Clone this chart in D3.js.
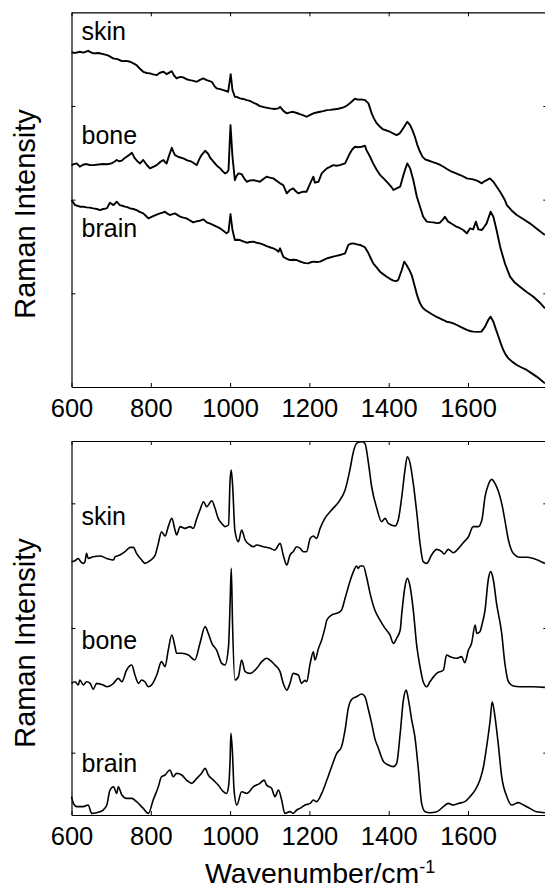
<!DOCTYPE html>
<html>
<head>
<meta charset="utf-8">
<script src="https://cdn.jsdelivr.net/npm/d3@7"></script>
<style>
  html, body { margin: 0; padding: 0; background: #fff; }
  svg { display: block; font-family: "Liberation Sans", Arial, Helvetica, sans-serif; }
</style>
</head>
<body>
<svg id="chart" width="545" height="888"></svg>
<script>
// Wavenumber axis (cm^-1)
const xDomain = [600, 1800];
const xTicks = [600, 800, 1000, 1200, 1400, 1600];

// Upper panel: raw spectra, stacked with offsets [wavenumber, intensity]
const rawSkin = [[600,3.572],[610,3.566],[621,3.579],[630,3.570],[642,3.589],[648,3.575],[655,3.561],[668,3.566],[680,3.554],[692,3.540],[705,3.508],[716,3.500],[727,3.479],[738,3.482],[748,3.472],[756,3.455],[764,3.436],[772,3.400],[781,3.365],[790,3.352],[798,3.348],[806,3.338],[815,3.330],[823,3.355],[832,3.365],[840,3.340],[853,3.372],[858,3.330],[865,3.294],[874,3.310],[882,3.305],[890,3.285],[899,3.276],[908,3.268],[916,3.258],[924,3.278],[932,3.294],[941,3.276],[954,3.258],[960,3.215],[966,3.188],[975,3.180],[983,3.170],[990,3.160],[995,3.151],[1001.5,3.340],[1006,3.170],[1012,3.098],[1018,3.095],[1025,3.081],[1033,3.075],[1042,3.063],[1050,3.055],[1059,3.034],[1067,3.020],[1075,2.999],[1088,2.985],[1101,2.974],[1112,2.968],[1122,2.974],[1126,2.991],[1135,2.945],[1143,2.921],[1151,2.932],[1159,2.938],[1168,2.925],[1176,2.912],[1185,2.900],[1193,2.885],[1202,2.905],[1210,2.921],[1218,2.930],[1227,2.938],[1235,2.945],[1244,2.956],[1252,2.958],[1260,2.963],[1273,2.970],[1286,2.985],[1295,3.005],[1302,3.028],[1309,3.055],[1315,3.077],[1322,3.068],[1328,3.070],[1334,3.068],[1340,3.063],[1349,3.028],[1357,2.921],[1363,2.865],[1370,2.814],[1378,2.778],[1386,2.750],[1395,2.738],[1403,2.725],[1412,2.705],[1420,2.689],[1428,2.708],[1434,2.745],[1439,2.778],[1447,2.831],[1454,2.796],[1460,2.740],[1466,2.671],[1472,2.585],[1479,2.511],[1485,2.460],[1492,2.430],[1500,2.418],[1508,2.405],[1515,2.395],[1521,2.387],[1530,2.370],[1538,2.351],[1548,2.325],[1559,2.298],[1570,2.280],[1580,2.263],[1589,2.245],[1597,2.227],[1605,2.222],[1613,2.216],[1624,2.200],[1635,2.174],[1641,2.195],[1647,2.209],[1655,2.227],[1664,2.191],[1672,2.140],[1681,2.084],[1693,1.996],[1698,1.942],[1710,1.885],[1723,1.836],[1740,1.790],[1756,1.747],[1775,1.685],[1794,1.622]];
const rawBone = [[600,2.369],[606,2.380],[613,2.387],[621,2.352],[629,2.372],[638,2.380],[646,2.370],[655,2.369],[668,2.375],[680,2.380],[690,2.378],[701,2.387],[708,2.405],[714,2.423],[720,2.410],[727,2.416],[733,2.440],[739,2.458],[746,2.478],[752,2.501],[756,2.470],[760,2.440],[766,2.410],[773,2.387],[777,2.405],[781,2.423],[790,2.370],[798,2.334],[806,2.350],[815,2.369],[823,2.400],[832,2.423],[836,2.400],[840,2.387],[846,2.470],[853,2.554],[857,2.510],[861,2.476],[870,2.455],[882,2.440],[892,2.420],[903,2.405],[910,2.385],[916,2.369],[922,2.430],[928,2.476],[937,2.522],[945,2.487],[950,2.445],[958,2.405],[966,2.365],[975,2.334],[981,2.305],[987,2.280],[992,2.290],[996,2.316],[1001,2.796],[1006,2.458],[1012,2.209],[1016,2.250],[1021,2.280],[1029,2.273],[1035,2.230],[1042,2.191],[1050,2.205],[1059,2.209],[1067,2.200],[1075,2.191],[1084,2.220],[1092,2.245],[1100,2.235],[1109,2.227],[1118,2.200],[1126,2.174],[1134,2.156],[1143,2.067],[1151,2.103],[1159,2.120],[1166,2.090],[1172,2.067],[1180,2.080],[1185,2.085],[1193,2.085],[1202,2.174],[1210,2.245],[1214,2.181],[1223,2.191],[1231,2.280],[1238,2.310],[1244,2.334],[1252,2.350],[1260,2.369],[1268,2.362],[1277,2.369],[1284,2.380],[1290,2.387],[1296,2.440],[1302,2.494],[1308,2.535],[1315,2.565],[1322,2.560],[1332,2.565],[1340,2.576],[1344,2.529],[1353,2.458],[1361,2.385],[1370,2.316],[1378,2.265],[1387,2.227],[1393,2.200],[1399,2.174],[1406,2.140],[1412,2.103],[1420,2.120],[1429,2.138],[1435,2.230],[1441,2.316],[1447,2.387],[1454,2.334],[1462,2.209],[1471,2.031],[1479,1.925],[1487,1.818],[1496,1.765],[1505,1.760],[1513,1.757],[1521,1.750],[1529,1.754],[1536,1.785],[1542,1.818],[1550,1.765],[1560,1.740],[1571,1.711],[1580,1.695],[1588,1.676],[1597,1.640],[1605,1.693],[1613,1.683],[1620,1.765],[1626,1.683],[1635,1.676],[1641,1.710],[1647,1.747],[1652,1.810],[1657,1.871],[1664,1.818],[1672,1.676],[1681,1.498],[1693,1.320],[1706,1.178],[1718,1.115],[1731,1.071],[1748,1.015],[1765,0.964],[1780,0.905],[1794,0.840]];
const rawBrain = [[600,1.996],[609,1.942],[615,1.935],[621,1.925],[630,1.925],[638,1.918],[646,1.915],[655,1.907],[664,1.900],[672,1.889],[680,1.900],[689,1.907],[697,1.967],[706,1.942],[714,1.978],[722,1.942],[728,1.935],[735,1.925],[742,1.918],[748,1.907],[756,1.900],[764,1.889],[772,1.870],[781,1.853],[788,1.825],[794,1.800],[806,1.825],[815,1.840],[823,1.853],[830,1.862],[836,1.871],[842,1.850],[848,1.836],[855,1.846],[861,1.853],[868,1.835],[874,1.818],[882,1.808],[890,1.800],[898,1.780],[907,1.757],[915,1.768],[924,1.775],[933,1.789],[941,1.757],[950,1.745],[958,1.729],[966,1.712],[975,1.693],[983,1.668],[991,1.640],[996,1.658],[1001,1.846],[1006,1.676],[1012,1.569],[1018,1.572],[1025,1.569],[1033,1.555],[1042,1.540],[1050,1.548],[1059,1.551],[1067,1.540],[1075,1.533],[1084,1.520],[1092,1.505],[1100,1.492],[1109,1.480],[1116,1.465],[1122,1.444],[1126,1.480],[1134,1.391],[1142,1.370],[1151,1.355],[1160,1.358],[1168,1.355],[1176,1.340],[1185,1.327],[1191,1.322],[1197,1.320],[1204,1.332],[1210,1.338],[1218,1.335],[1227,1.338],[1235,1.355],[1244,1.373],[1252,1.382],[1260,1.391],[1268,1.400],[1277,1.409],[1284,1.418],[1290,1.427],[1298,1.516],[1305,1.530],[1311,1.533],[1320,1.522],[1328,1.516],[1334,1.505],[1340,1.491],[1349,1.427],[1355,1.372],[1361,1.320],[1370,1.275],[1378,1.231],[1386,1.205],[1395,1.178],[1403,1.155],[1412,1.135],[1418,1.130],[1424,1.142],[1433,1.249],[1439,1.338],[1445,1.302],[1452,1.250],[1458,1.195],[1466,1.071],[1472,0.975],[1479,0.893],[1485,0.850],[1492,0.822],[1500,0.800],[1508,0.779],[1518,0.755],[1529,0.733],[1538,0.715],[1546,0.697],[1555,0.690],[1563,0.680],[1572,0.662],[1580,0.644],[1589,0.625],[1597,0.609],[1605,0.598],[1613,0.591],[1624,0.588],[1634,0.591],[1643,0.644],[1651,0.715],[1657,0.751],[1664,0.697],[1670,0.620],[1677,0.537],[1683,0.460],[1689,0.395],[1695,0.345],[1702,0.306],[1712,0.268],[1723,0.235],[1735,0.208],[1748,0.182],[1760,0.148],[1773,0.111],[1784,0.075],[1794,0.039]];

// Lower panel: background-subtracted spectra, stacked with offsets
const corrSkin = [[600,2.032],[609,2.040],[617,2.058],[623,2.032],[630,2.018],[634,2.032],[638,2.099],[642,2.058],[655,2.072],[672,2.077],[689,2.058],[706,2.045],[710,2.072],[722,2.085],[735,2.112],[748,2.147],[756,2.147],[764,2.099],[777,2.045],[785,2.018],[798,2.040],[811,2.085],[819,2.179],[827,2.272],[836,2.238],[844,2.313],[853,2.379],[861,2.286],[865,2.246],[874,2.313],[886,2.299],[899,2.313],[907,2.299],[916,2.379],[924,2.446],[933,2.513],[941,2.473],[954,2.521],[962,2.460],[970,2.379],[979,2.339],[987,2.313],[996,2.326],[1000,2.687],[1003,2.767],[1006.5,2.633],[1012,2.286],[1021,2.192],[1029,2.286],[1038,2.206],[1050,2.166],[1059,2.152],[1067,2.166],[1084,2.152],[1101,2.139],[1113,2.125],[1126,2.179],[1134,2.085],[1143,2.005],[1151,2.085],[1159,2.112],[1168,2.152],[1176,2.140],[1185,2.112],[1193,2.112],[1202,2.219],[1210,2.238],[1218,2.219],[1227,2.299],[1239,2.379],[1256,2.446],[1277,2.526],[1290,2.607],[1302,2.767],[1311,2.914],[1319,2.981],[1332,2.994],[1340,2.981],[1349,2.821],[1357,2.633],[1370,2.460],[1382,2.353],[1391,2.379],[1399,2.339],[1416,2.318],[1424,2.366],[1433,2.553],[1441,2.767],[1447,2.874],[1454,2.821],[1462,2.660],[1471,2.420],[1479,2.179],[1487,2.032],[1496,2.018],[1508,2.085],[1521,2.131],[1534,2.112],[1540,2.093],[1550,2.131],[1563,2.104],[1576,2.139],[1588,2.184],[1601,2.232],[1613,2.313],[1626,2.313],[1635,2.366],[1643,2.553],[1651,2.647],[1660,2.692],[1668,2.660],[1677,2.593],[1685,2.500],[1693,2.366],[1702,2.206],[1714,2.099],[1731,2.067],[1748,2.067],[1765,2.058],[1794,2.018]];
const corrBone = [[600,1.056],[609,1.069],[617,1.043],[621,1.083],[630,1.043],[638,1.069],[647,1.056],[655,1.008],[663,1.056],[680,1.043],[689,1.029],[706,1.056],[718,1.096],[727,1.069],[739,1.163],[752,1.203],[760,1.123],[769,1.056],[777,1.083],[785,1.069],[794,1.029],[802,1.043],[815,1.123],[827,1.230],[836,1.190],[844,1.323],[853,1.444],[861,1.350],[865,1.297],[878,1.297],[895,1.283],[911,1.243],[924,1.377],[937,1.511],[945,1.457],[954,1.377],[966,1.323],[979,1.216],[987,1.203],[996,1.350],[1000,1.700],[1003,1.978],[1006,1.550],[1012,1.083],[1021,1.109],[1029,1.243],[1038,1.150],[1050,1.136],[1067,1.176],[1080,1.230],[1092,1.257],[1105,1.230],[1113,1.203],[1126,1.150],[1134,1.056],[1143,1.002],[1151,1.056],[1159,1.136],[1172,1.123],[1180,1.056],[1189,1.080],[1193,1.069],[1202,1.216],[1210,1.310],[1214,1.243],[1223,1.337],[1231,1.404],[1239,1.497],[1244,1.564],[1256,1.604],[1273,1.623],[1281,1.644],[1290,1.738],[1302,1.871],[1311,1.952],[1319,1.997],[1323,1.978],[1328,1.997],[1336,1.997],[1344,1.911],[1353,1.778],[1365,1.644],[1378,1.564],[1391,1.497],[1403,1.444],[1412,1.377],[1420,1.417],[1429,1.484],[1433,1.617],[1441,1.831],[1447,1.898],[1454,1.831],[1462,1.644],[1471,1.350],[1479,1.190],[1487,1.069],[1496,1.029],[1504,1.069],[1521,1.136],[1538,1.163],[1546,1.283],[1555,1.270],[1571,1.257],[1584,1.270],[1592,1.222],[1601,1.323],[1609,1.377],[1618,1.524],[1622,1.457],[1630,1.470],[1635,1.524],[1643,1.644],[1651,1.885],[1657,1.952],[1664,1.885],[1672,1.697],[1685,1.457],[1693,1.216],[1702,1.069],[1714,1.035],[1731,1.029],[1765,1.029],[1794,1.024]];
const corrBrain = [[600,0.147],[605,0.093],[613,0.067],[630,0.067],[642,0.080],[651,0.013],[663,0.018],[680,0.040],[689,0.080],[697,0.200],[706,0.227],[714,0.173],[718,0.227],[727,0.160],[739,0.133],[752,0.133],[764,0.107],[781,0.053],[794,0.013],[806,0.120],[819,0.227],[827,0.307],[836,0.321],[848,0.361],[857,0.307],[865,0.334],[878,0.321],[890,0.280],[903,0.254],[916,0.294],[928,0.334],[937,0.374],[945,0.321],[958,0.280],[970,0.240],[983,0.187],[991,0.173],[996,0.227],[1000,0.441],[1002,0.655],[1006,0.494],[1010,0.200],[1017,0.080],[1029,0.187],[1042,0.173],[1059,0.227],[1075,0.254],[1086,0.280],[1092,0.240],[1105,0.213],[1113,0.147],[1122,0.200],[1130,0.120],[1138,0.013],[1151,0.027],[1159,0.013],[1168,0.040],[1176,0.053],[1189,0.080],[1202,0.093],[1210,0.120],[1218,0.107],[1231,0.173],[1244,0.280],[1256,0.387],[1269,0.494],[1281,0.548],[1290,0.682],[1298,0.855],[1307,0.928],[1319,0.949],[1332,0.970],[1340,0.949],[1349,0.842],[1357,0.735],[1365,0.615],[1374,0.535],[1387,0.428],[1399,0.401],[1412,0.388],[1420,0.414],[1429,0.655],[1437,0.922],[1444,1.002],[1450,0.922],[1458,0.762],[1466,0.628],[1475,0.361],[1483,0.093],[1492,0.026],[1504,0.018],[1521,0.026],[1538,0.067],[1550,0.093],[1563,0.080],[1576,0.093],[1592,0.107],[1605,0.147],[1618,0.200],[1630,0.280],[1639,0.387],[1647,0.548],[1656,0.762],[1661,0.909],[1668,0.789],[1677,0.548],[1685,0.307],[1698,0.147],[1710,0.080],[1727,0.099],[1740,0.080],[1756,0.053],[1773,0.026],[1794,0.018]];

const tissueNames = ["skin", "bone", "brain"];
const yLabel = "Raman Intensity";
const xLabel = "Wavenumber/cm";

const svg = d3.select("#chart");
const tickLen = 4;
const fontTick = 25.5;

const x = d3.scaleLinear().domain(xDomain).range([71.5, 547.3]);

function panel(cfg) {
  const y = d3.scaleLinear().domain(cfg.yDomain).range([cfg.bottom, cfg.top]);
  const g = svg.append("g");

  // spectra
  const line = d3.line().x(d => x(d[0])).y(d => y(d[1])).curve(cfg.curve);
  g.selectAll("path.spec").data(cfg.series).join("path")
    .attr("class", "spec")
    .attr("d", line)
    .attr("fill", "none")
    .attr("stroke", "#000")
    .attr("stroke-width", cfg.lw)
    .attr("stroke-linejoin", "round");

  // bottom axis with labels, ticks pointing inward
  const ax = g.append("g").attr("transform", `translate(0,${cfg.bottom})`)
    .call(d3.axisBottom(x).tickValues(xTicks).tickSizeInner(-tickLen).tickSizeOuter(0).tickPadding(12).tickFormat(d3.format("d")));
  ax.selectAll("text").attr("font-size", fontTick).attr("fill", "#000").attr("font-family", null);

  // top axis, ticks only
  g.append("g").attr("transform", `translate(0,${cfg.top})`)
    .call(d3.axisTop(x).tickValues(xTicks).tickSizeInner(-tickLen).tickSizeOuter(0).tickFormat(""));

  // left and right axes, ticks only
  g.append("g").attr("transform", `translate(${x(xDomain[0])},0)`)
    .call(d3.axisLeft(y).tickValues(cfg.yTicks).tickSizeInner(-tickLen).tickSizeOuter(0).tickFormat(""));
  g.append("g").attr("transform", `translate(${x(xDomain[1])},0)`)
    .call(d3.axisRight(y).tickValues(cfg.yTicks).tickSizeInner(-tickLen).tickSizeOuter(0).tickFormat(""));

  g.selectAll(".domain").attr("stroke", "#000").attr("stroke-width", 1.2);
  g.selectAll(".tick line").attr("stroke", "#000").attr("stroke-width", 1);

  // tissue names
  g.selectAll("text.name").data(cfg.names).join("text")
    .attr("class", "name")
    .attr("x", 81.5)
    .attr("y", (d, i) => cfg.nameY[i])
    .attr("font-size", 25)
    .attr("fill", "#000")
    .text(d => d);

  // y title
  g.append("text")
    .attr("transform", `translate(35,${cfg.yLabelY}) rotate(-90)`)
    .attr("text-anchor", "middle")
    .attr("font-size", 29)
    .attr("fill", "#000")
    .text(yLabel);
}

panel({
  top: 12.3, bottom: 387, yDomain: [0, 4], yTicks: [1, 2, 3],
  series: [rawSkin, rawBone, rawBrain], curve: d3.curveLinear, lw: 1.9,
  names: tissueNames, nameY: [39.5, 143.5, 237], yLabelY: 214
});

panel({
  top: 441, bottom: 815, yDomain: [0, 3], yTicks: [0.5, 1.5, 2.5],
  series: [corrSkin, corrBone, corrBrain], curve: d3.curveMonotoneX, lw: 1.6,
  names: tissueNames, nameY: [525, 648.5, 772], yLabelY: 643
});

// x title with superscript
const xt = svg.append("text")
  .attr("x", 205)
  .attr("y", 883)
  .attr("font-size", 28.5)
  .attr("fill", "#000");
xt.append("tspan").text(xLabel);
xt.append("tspan").attr("dy", -10).attr("font-size", 18).text("-1");
</script>
</body>
</html>
